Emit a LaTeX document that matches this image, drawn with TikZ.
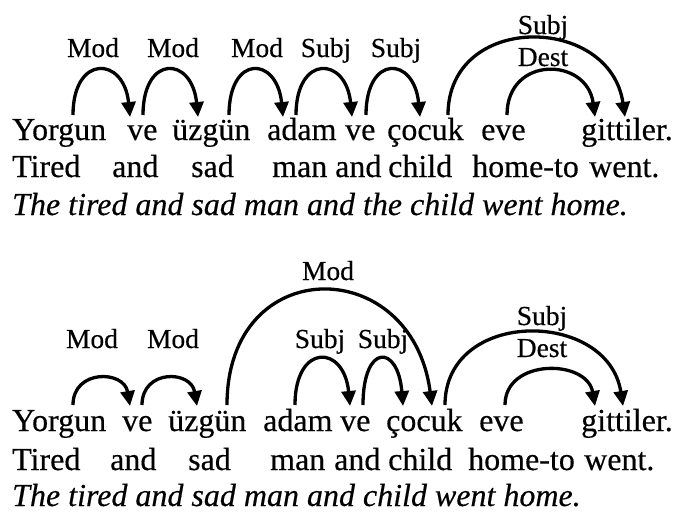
\documentclass[tikz,border=0pt]{standalone}
\usepackage{fontspec}
\setmainfont{Liberation Serif}[FakeBold=0.4]
\usetikzlibrary{arrows.meta}
\begin{document}
\begin{tikzpicture}[x=1pt,y=-1pt,
  word/.style={anchor=base west,inner sep=0pt,font=\fontsize{32}{38}\selectfont},
  trans/.style={anchor=base west,inner sep=0pt,font=\fontsize{32}{38}\selectfont\itshape},
  lab/.style={anchor=base,inner sep=0pt,font=\fontsize{27.5}{32}\selectfont},
  dep/.style={line width=3.3pt,-{Triangle[length=15pt,width=14pt]}}]
\useasboundingbox (0,0) rectangle (678,512);

% ---------- block 1 ----------
\node[word] (w1) at (12,140) {Yorgun};
\node[word] (w2) at (127,140) {ve};
\node[word] (w3) at (172,140) {üzgün};
\node[word] (w4) at (267,140) {adam};
\node[word] (w5) at (345,140) {ve};
\node[word] (w6) at (387,140) {çocuk};
\node[word] (w7) at (481,140) {eve};
\node[word] (w8) at (581,140) {gittiler.};
\node[word] (g1) at (12,177) {Tired};
\node[word] (g2) at (112,177) {and};
\node[word] (g3) at (191,177) {sad};
\node[word] (g4) at (272,177) {man};
\node[word] (g5) at (335,177) {and};
\node[word] (g6) at (388,177) {child};
\node[word] (g7) at (472,177) {home-to};
\node[word] (g8) at (589,177) {went.};
\node[trans] (t1) at (12,215) {The tired and sad man and the child went home.};

\coordinate (a1s) at (73,115);  \coordinate (a1t) at (130,117);
\coordinate (a2s) at (143,115); \coordinate (a2t) at (198,117);
\coordinate (a3s) at (229,115); \coordinate (a3t) at (283,117);
\coordinate (a4s) at (296,115); \coordinate (a4t) at (352,117);
\coordinate (a5s) at (366,115); \coordinate (a5t) at (420,117);
\coordinate (a6s) at (448,115); \coordinate (a6t) at (625,117);
\coordinate (a7s) at (507,115); \coordinate (a7t) at (595,117);
\draw[dep] (a1s) .. controls +(0,-61) and +(-6,-61) .. (a1t);
\draw[dep] (a2s) .. controls +(0,-61) and +(-6,-61) .. (a2t);
\draw[dep] (a3s) .. controls +(0,-61) and +(-6,-61) .. (a3t);
\draw[dep] (a4s) .. controls +(0,-61) and +(-6,-61) .. (a4t);
\draw[dep] (a5s) .. controls +(0,-61) and +(-6,-61) .. (a5t);
\draw[dep] (a6s) .. controls +(0,-103) and +(-15,-103) .. (a6t);
\draw[dep] (a7s) .. controls +(0,-60) and +(-8,-60) .. (a7t);

\node[lab] (l1) at (93,57) {Mod};
\node[lab] (l2) at (173,57) {Mod};
\node[lab] (l3) at (257,57) {Mod};
\node[lab] (l4) at (326,57) {Subj};
\node[lab] (l5) at (396,57) {Subj};
\node[lab] (l6) at (543,34) {Subj};
\node[lab] (l7) at (543,66) {Dest};

% ---------- block 2 ----------
\node[word] (v1) at (12,431) {Yorgun};
\node[word] (v2) at (122,431) {ve};
\node[word] (v3) at (168,431) {üzgün};
\node[word] (v4) at (263,431) {adam};
\node[word] (v5) at (340,431) {ve};
\node[word] (v6) at (386,431) {çocuk};
\node[word] (v7) at (479,431) {eve};
\node[word] (v8) at (581,431) {gittiler.};
\node[word] (h1) at (12,470) {Tired};
\node[word] (h2) at (110,470) {and};
\node[word] (h3) at (188,470) {sad};
\node[word] (h4) at (270,470) {man};
\node[word] (h5) at (334,470) {and};
\node[word] (h6) at (388,470) {child};
\node[word] (h7) at (468,470) {home-to};
\node[word] (h8) at (584,470) {went.};
\node[trans] (t2) at (12,506) {The tired and sad man and child went home.};

\coordinate (b1s) at (73,405);  \coordinate (b1t) at (130,406);
\coordinate (b2s) at (142,405); \coordinate (b2t) at (197,406);
\coordinate (b3s) at (227,405); \coordinate (b3t) at (432,406);
\coordinate (b4s) at (295,405); \coordinate (b4t) at (350,406);
\coordinate (b5s) at (363,405); \coordinate (b5t) at (403,406);
\coordinate (b6s) at (445,405); \coordinate (b6t) at (623,406);
\coordinate (b7s) at (505,405); \coordinate (b7t) at (595,406);
\draw[dep] (b1s) .. controls +(0,-36) and +(-6,-36) .. (b1t);
\draw[dep] (b2s) .. controls +(0,-36) and +(-6,-36) .. (b2t);
\draw[dep] (b3s) .. controls +(0,-153) and +(-20,-153) .. (b3t);
\draw[dep] (b4s) .. controls +(0,-62) and +(-6,-62) .. (b4t);
\draw[dep] (b5s) .. controls +(0,-62) and +(-5,-62) .. (b5t);
\draw[dep] (b6s) .. controls +(0,-97) and +(-15,-97) .. (b6t);
\draw[dep] (b7s) .. controls +(0,-47) and +(-8,-47) .. (b7t);

\node[lab] (m1) at (92,348) {Mod};
\node[lab] (m2) at (173,348) {Mod};
\node[lab] (m3) at (328,280) {Mod};
\node[lab] (m4) at (320,348) {Subj};
\node[lab] (m5) at (383,348) {Subj};
\node[lab] (m6) at (542,325) {Subj};
\node[lab] (m7) at (542,357) {Dest};
\end{tikzpicture}
\end{document}
